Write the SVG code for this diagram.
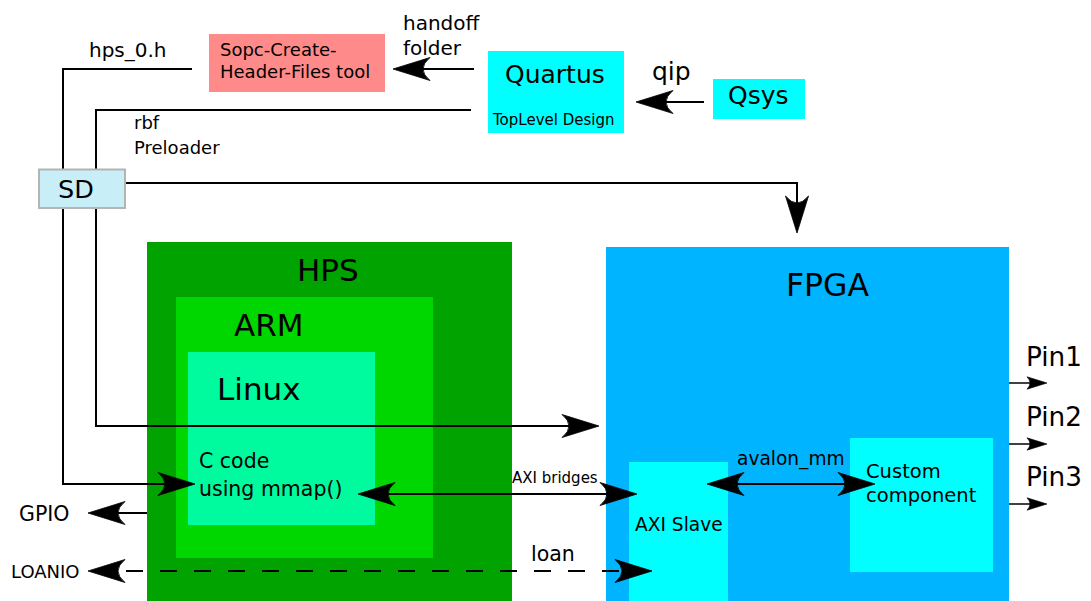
<svg xmlns="http://www.w3.org/2000/svg" width="1091" height="601" viewBox="0 0 1091 601">
  <style>
    text { font-family: "DejaVu Sans", "Liberation Sans", sans-serif; fill: #000; }
    .conn { fill: none; stroke: #000; stroke-width: 2; }
    .thin { fill: none; stroke: #000; stroke-width: 1.7; }
  </style>
  <defs>
    <marker id="arrEnd" markerUnits="userSpaceOnUse" markerWidth="50" markerHeight="30" viewBox="-40 -15 50 30" refX="0" refY="0" orient="auto" overflow="visible">
      <path d="M4,0 L-33,-11.5 Q-19,0 -33,11.5 Z" fill="#000" stroke="#000" stroke-width="0.8" stroke-linejoin="round"/>
    </marker>
    <marker id="arrStart" markerUnits="userSpaceOnUse" markerWidth="50" markerHeight="30" viewBox="-10 -15 50 30" refX="0" refY="0" orient="auto" overflow="visible">
      <path d="M-4,0 L33,-11.5 Q19,0 33,11.5 Z" fill="#000" stroke="#000" stroke-width="0.8" stroke-linejoin="round"/>
    </marker>
    <marker id="pinArr" markerUnits="userSpaceOnUse" markerWidth="30" markerHeight="20" viewBox="-25 -10 30 20" refX="0" refY="0" orient="auto" overflow="visible">
      <path d="M3,0 L-17,-6.2 Q-11,0 -17,6.2 Z" fill="#000" stroke="#000" stroke-width="0.6" stroke-linejoin="round"/>
    </marker>
  </defs>
  <rect width="1091" height="601" fill="#fff"/>

  <g id="hps">
    <rect x="147" y="242" width="365" height="359" fill="#00a300"/>
    <text x="297" y="281" font-size="31">HPS</text>
  </g>
  <g id="arm">
    <rect x="176" y="297" width="257" height="261" fill="#00d600"/>
    <text x="234" y="336" font-size="31">ARM</text>
  </g>
  <g id="linux">
    <rect x="188" y="352" width="187" height="173" fill="#00fa9e"/>
    <text x="217" y="400" font-size="31">Linux</text>
    <text x="199" y="468" font-size="20.5">C code</text>
    <text x="199" y="496" font-size="20.5">using mmap()</text>
  </g>
  <g id="fpga">
    <rect x="606" y="247" width="403" height="354" fill="#00b4ff"/>
    <text x="786" y="296" font-size="31.5">FPGA</text>
  </g>
  <g id="axi-slave">
    <rect x="629" y="462" width="99" height="139" fill="#00ffff"/>
    <text x="635" y="531" font-size="18.6">AXI Slave</text>
  </g>
  <g id="custom-component">
    <rect x="850" y="438" width="143" height="134" fill="#00ffff"/>
    <text x="866" y="478" font-size="19.5">Custom</text>
    <text x="866" y="502" font-size="19.5">component</text>
  </g>
  <g id="sopc">
    <rect x="209" y="34" width="176" height="58" fill="#ff8a8a"/>
    <text x="220" y="56" font-size="18">Sopc-Create-</text>
    <text x="220" y="78" font-size="18">Header-Files tool</text>
  </g>
  <g id="quartus">
    <rect x="488" y="51" width="136" height="82" fill="#00ffff"/>
    <text x="505" y="83" font-size="25">Quartus</text>
    <text x="493" y="125" font-size="15">TopLevel Design</text>
  </g>
  <g id="qsys">
    <rect x="713" y="79" width="92" height="40" fill="#00ffff"/>
    <text x="728" y="104" font-size="25">Qsys</text>
  </g>

  <g id="connectors">
    <path class="conn" d="M192,69 H63 V484 H191" marker-end="url(#arrEnd)"/>
    <path class="conn" d="M471,110 H96 V426 H595" marker-end="url(#arrEnd)"/>
    <path class="conn" d="M125,183 H797 V229" marker-end="url(#arrEnd)"/>
    <path class="conn" d="M474,69 H397" marker-end="url(#arrEnd)"/>
    <path class="conn" d="M704,102 H640" marker-end="url(#arrEnd)"/>
    <path class="conn" d="M362,494 H633" marker-start="url(#arrStart)" marker-end="url(#arrEnd)"/>
    <path class="conn" d="M711,484 H871" marker-start="url(#arrStart)" marker-end="url(#arrEnd)"/>
    <path class="conn" d="M147,513 H92" marker-end="url(#arrEnd)"/>
    <path class="conn" d="M92,571 H648" stroke-width="2.3" stroke-dasharray="17,17" marker-start="url(#arrStart)" marker-end="url(#arrEnd)"/>
    <path class="thin" d="M1009,383 H1044" marker-end="url(#pinArr)"/>
    <path class="thin" d="M1009,444 H1044" marker-end="url(#pinArr)"/>
    <path class="thin" d="M1009,504 H1044" marker-end="url(#pinArr)"/>
    <text x="89" y="57" font-size="20">hps_0.h</text>
    <text x="403" y="30" font-size="20">handoff</text>
    <text x="403" y="55" font-size="20">folder</text>
    <text x="652" y="80" font-size="25">qip</text>
    <text x="134" y="129" font-size="18">rbf</text>
    <text x="134" y="154" font-size="18">Preloader</text>
    <text x="512" y="483" font-size="15">AXI bridges</text>
    <text x="737" y="465" font-size="18.6">avalon_mm</text>
    <text x="19" y="521" font-size="20.5">GPIO</text>
    <text x="11" y="578" font-size="18">LOANIO</text>
    <text x="531" y="561" font-size="20.5">loan</text>
    <text x="1026" y="366" font-size="26.3">Pin1</text>
    <text x="1026" y="426" font-size="26.3">Pin2</text>
    <text x="1026" y="486" font-size="26.3">Pin3</text>
  </g>

  <g id="sd">
    <rect x="39" y="169.5" width="86" height="38.5" fill="#c8eff8" stroke="#b4b4b4" stroke-width="2"/>
    <text x="58" y="198" font-size="25.5">SD</text>
  </g>
</svg>
